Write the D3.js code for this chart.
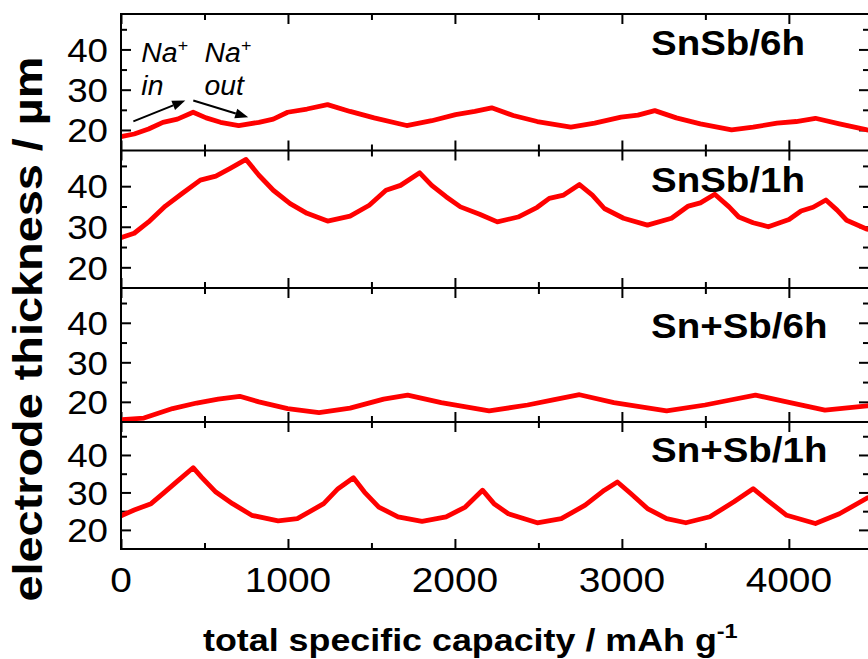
<!DOCTYPE html>
<html>
<head>
<meta charset="utf-8">
<script src="https://cdn.jsdelivr.net/npm/d3@7"></script>
<style>
  body { margin: 0; background: #fff; }
  svg { display: block; }
</style>
</head>
<body>
<svg id="chart" width="868" height="659"></svg>
<script>
// ---- data: [total specific capacity (mAh/g), electrode thickness (µm)] ----
const panelNames = ["SnSb/6h", "SnSb/1h", "Sn+Sb/6h", "Sn+Sb/1h"];

const snsb6h = [
  [0, 18.3], [7, 18.4], [79, 19.0], [165, 20.25], [251, 21.9], [338, 22.7], [432, 24.4],
  [510, 23.0], [596, 21.9], [705, 21.1], [826, 21.9], [912, 22.7], [998, 24.4],
  [1114, 25.2], [1237, 26.3], [1372, 24.6], [1516, 23.0], [1711, 21.1], [1861, 22.3],
  [2004, 23.8], [2119, 24.6], [2220, 25.5], [2349, 23.6], [2493, 22.1], [2694, 20.7],
  [2837, 21.7], [2995, 23.2], [3096, 23.7], [3197, 24.8], [3326, 23.0], [3470, 21.5],
  [3657, 20.0], [3786, 20.7], [3929, 21.7], [4044, 22.1], [4159, 22.9], [4303, 21.5],
  [4469, 20.0], [4500, 19.8]
];

const snsb1h = [
  [0, 27.3], [7, 27.4], [79, 28.4], [165, 31.2], [266, 35.1], [366, 38.2], [475, 41.5],
  [568, 42.5], [654, 44.4], [749, 46.6], [826, 42.7], [912, 39.0], [1013, 35.7],
  [1114, 33.3], [1237, 31.4], [1372, 32.6], [1487, 35.3], [1587, 39.0], [1674, 40.2],
  [1789, 43.3], [1861, 40.2], [1947, 37.4], [2033, 34.9], [2148, 33.1], [2254, 31.2],
  [2378, 32.4], [2493, 34.8], [2565, 37.0], [2651, 37.8], [2746, 40.4], [2823, 37.8],
  [2895, 34.5], [3010, 32.1], [3153, 30.4], [3297, 32.1], [3398, 35.1], [3470, 35.9],
  [3556, 38.0], [3642, 34.9], [3700, 32.4], [3786, 31.0], [3877, 30.0], [4001, 31.8],
  [4073, 33.9], [4145, 34.8], [4222, 36.6], [4289, 34.1], [4346, 31.6], [4469, 29.4],
  [4500, 29.2]
];

const snPlusSb6h = [
  [0, 15.5], [7, 15.5], [137, 15.9], [309, 18.3], [453, 19.7], [582, 20.7], [711, 21.4],
  [826, 20.0], [998, 18.3], [1186, 17.3], [1372, 18.4], [1573, 20.7], [1717, 21.7],
  [1918, 19.8], [2205, 17.7], [2435, 19.2], [2588, 20.5], [2746, 21.8], [2952, 19.8],
  [3268, 17.7], [3498, 19.2], [3642, 20.4], [3800, 21.7], [3987, 20.0], [4216, 17.9],
  [4469, 19.0], [4500, 19.1]
];

const snPlusSb1h = [
  [0, 23.7], [7, 23.9], [79, 25.3], [180, 27.0], [251, 29.7], [338, 33.0], [432, 36.6],
  [482, 34.1], [568, 30.1], [668, 27.0], [783, 23.9], [941, 22.4], [1056, 23.0],
  [1214, 27.0], [1300, 31.0], [1392, 33.9], [1458, 30.1], [1544, 26.1], [1659, 23.5],
  [1803, 22.3], [1947, 23.5], [2062, 26.1], [2165, 30.6], [2234, 27.0], [2320, 24.3],
  [2493, 21.9], [2637, 23.0], [2780, 26.6], [2895, 30.6], [2973, 32.8], [3053, 29.7],
  [3153, 25.7], [3268, 23.0], [3383, 21.9], [3527, 23.5], [3671, 27.5], [3786, 31.0],
  [3872, 27.9], [3987, 23.9], [4159, 21.7], [4303, 24.3], [4469, 28.5], [4500, 29.0]
];

const seriesList = [snsb6h, snsb1h, snPlusSb6h, snPlusSb1h];

const xTickValues = [0, 1000, 2000, 3000, 4000];
const xMinorTickValues = [500, 1500, 2500, 3500];
const yTickValues = [20, 30, 40];
const yMinorTickValues = [25, 35, 45];

// Na+ in / out annotations (data units of the top panel)
const annotationArrows = [
  { from: [74, 22.15], to: [385, 27.3] },
  { from: [433, 27.3], to: [762, 23.15] }
];
const annotationTexts = [
  { x: 122, y: 36.9, ion: "Na", charge: "+", word: "in" },
  { x: 500, y: 36.9, ion: "Na", charge: "+", word: "out" }
];

// ---- layout ----
const left = 121, right = 869;
const panelTops = [14, 150.5, 288, 422];
const plotBottom = 549;
const yDomain = [14.9, 48.8];
const font = "'Liberation Sans', Arial, Helvetica, sans-serif";
const red = "#ff0000";

const svg = d3.select("#chart");
const x = d3.scaleLinear().domain([0, 4480]).range([left, right]);

svg.append("defs").append("clipPath").attr("id", "plot-clip")
  .append("rect").attr("x", left).attr("y", panelTops[0])
  .attr("width", right - left).attr("height", plotBottom - panelTops[0]);

// text with a slight horizontal stretch, anchored at (px, py)
function wideText(parent, px, py, sx) {
  return parent.append("g")
    .attr("transform", `translate(${px},${py}) scale(${sx},1)`)
    .append("text")
    .attr("font-family", font)
    .attr("fill", "#000");
}

const panels = panelNames.map((name, i) => {
  const top = panelTops[i];
  const bottom = i < 3 ? panelTops[i + 1] : plotBottom;
  const y = d3.scaleLinear().domain(yDomain).range([bottom, top]);
  return { name, top, bottom, y, data: seriesList[i] };
});

function styleTicks(g, w) {
  g.select(".domain").remove();
  g.selectAll(".tick line").attr("stroke", "#000").attr("stroke-width", w);
  g.selectAll(".tick text").remove();
}

const labelOffsets = [41, 41, 50, 40];

panels.forEach((p, i) => {
  const g = svg.append("g");

  // left / right ticks (inward)
  g.append("g").attr("transform", `translate(${left},0)`)
    .call(d3.axisLeft(p.y).tickValues(yTickValues).tickSizeInner(-10).tickSizeOuter(0))
    .call(s => styleTicks(s, 2));
  g.append("g").attr("transform", `translate(${left},0)`)
    .call(d3.axisLeft(p.y).tickValues(yMinorTickValues).tickSizeInner(-6).tickSizeOuter(0))
    .call(s => styleTicks(s, 2));
  g.append("g").attr("transform", `translate(${right},0)`)
    .call(d3.axisRight(p.y).tickValues(yTickValues).tickSizeInner(-10).tickSizeOuter(0))
    .call(s => styleTicks(s, 2));
  g.append("g").attr("transform", `translate(${right},0)`)
    .call(d3.axisRight(p.y).tickValues(yMinorTickValues).tickSizeInner(-6).tickSizeOuter(0))
    .call(s => styleTicks(s, 2));

  // top / bottom ticks (inward)
  g.append("g").attr("transform", `translate(0,${p.top})`)
    .call(d3.axisTop(x).tickValues(xTickValues).tickSizeInner(-10).tickSizeOuter(0))
    .call(s => styleTicks(s, 2));
  g.append("g").attr("transform", `translate(0,${p.top})`)
    .call(d3.axisTop(x).tickValues(xMinorTickValues).tickSizeInner(-6).tickSizeOuter(0))
    .call(s => styleTicks(s, 2));
  g.append("g").attr("transform", `translate(0,${p.bottom})`)
    .call(d3.axisBottom(x).tickValues(xTickValues).tickSizeInner(-10).tickSizeOuter(0))
    .call(s => styleTicks(s, 2));
  g.append("g").attr("transform", `translate(0,${p.bottom})`)
    .call(d3.axisBottom(x).tickValues(xMinorTickValues).tickSizeInner(-6).tickSizeOuter(0))
    .call(s => styleTicks(s, 2));

  // y tick labels
  yTickValues.forEach(v => {
    wideText(g, left - 13, p.y(v), 1.08)
      .attr("text-anchor", "end")
      .attr("dy", "0.36em")
      .attr("font-size", 34)
      .text(v);
  });

  // data line
  const line = d3.line().x(d => x(d[0])).y(d => p.y(d[1]));
  svg.append("path")
    .datum(p.data)
    .attr("clip-path", "url(#plot-clip)")
    .attr("fill", "none")
    .attr("stroke", red)
    .attr("stroke-width", 4.8)
    .attr("stroke-linejoin", "round")
    .attr("stroke-linecap", "round")
    .attr("d", line);

  // sample label
  wideText(g, 651, p.top + labelOffsets[i], 1.1)
    .attr("font-size", 35)
    .attr("font-weight", "bold")
    .text(p.name);
});

// frame lines
const frame = svg.append("g").attr("stroke", "#000").attr("stroke-width", 2);
frame.append("line").attr("x1", left).attr("x2", left).attr("y1", panelTops[0]).attr("y2", plotBottom);
frame.append("line").attr("x1", right).attr("x2", right).attr("y1", panelTops[0]).attr("y2", plotBottom);
[...panelTops, plotBottom].forEach(yy => {
  frame.append("line").attr("x1", left - 1).attr("x2", right).attr("y1", yy).attr("y2", yy);
});

// x tick labels
xTickValues.forEach(v => {
  wideText(svg, x(v), 592, 1.08)
    .attr("text-anchor", "middle")
    .attr("font-size", 36)
    .text(v);
});

// axis titles
const xt = wideText(svg, 203, 651, 1.12)
  .attr("font-size", 32)
  .attr("font-weight", "bold");
xt.append("tspan").text("total specific capacity / mAh g");
xt.append("tspan").attr("font-size", 21).attr("dy", -13).text("-1");

svg.append("text")
  .attr("transform", "translate(42,329) rotate(-90)")
  .attr("text-anchor", "middle")
  .attr("font-family", font)
  .attr("font-weight", "bold")
  .attr("font-size", 40)
  .attr("textLength", 545)
  .attr("lengthAdjust", "spacingAndGlyphs")
  .text("electrode thickness / µm");

// Na+ in/out annotation
const topY = panels[0].y;
annotationTexts.forEach(a => {
  const t1 = wideText(svg, x(a.x), topY(a.y), 1.05)
    .attr("font-size", 27).attr("font-style", "italic");
  t1.append("tspan").text(a.ion);
  t1.append("tspan").attr("font-size", 17).attr("dy", -11).text(a.charge);
  wideText(svg, x(a.x), topY(a.y) + 32.6, 1.05)
    .attr("font-size", 27).attr("font-style", "italic")
    .text(a.word);
});

annotationArrows.forEach(a => {
  const x1 = x(a.from[0]), y1 = topY(a.from[1]);
  const x2 = x(a.to[0]), y2 = topY(a.to[1]);
  const ang = Math.atan2(y2 - y1, x2 - x1);
  const headLen = 13, headHalf = 5;
  const bx = x2 - headLen * Math.cos(ang), by = y2 - headLen * Math.sin(ang);
  svg.append("line")
    .attr("x1", x1).attr("y1", y1).attr("x2", bx).attr("y2", by)
    .attr("stroke", "#000").attr("stroke-width", 2);
  const px = -Math.sin(ang) * headHalf, py = Math.cos(ang) * headHalf;
  svg.append("path")
    .attr("d", `M${x2},${y2}L${bx + px},${by + py}L${bx - px},${by - py}Z`)
    .attr("fill", "#000");
});
</script>
</body>
</html>
